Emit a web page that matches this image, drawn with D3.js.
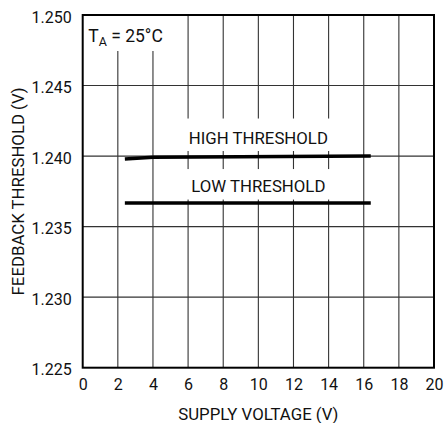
<!DOCTYPE html>
<html>
<head>
<meta charset="utf-8">
<script src="https://cdn.jsdelivr.net/npm/d3@7"></script>
<style>
  html, body { margin: 0; padding: 0; background: #fff; }
  svg { display: block; }
  text { font-family: Roboto, "Liberation Sans", sans-serif; fill: #111; }
</style>
</head>
<body>
<svg id="chart" width="444" height="423"></svg>
<script>
// ---- data ----
const xTicks = [0, 2, 4, 6, 8, 10, 12, 14, 16, 18, 20];
const yTicks = [1.225, 1.230, 1.235, 1.240, 1.245, 1.250];
const highVoltage = [2.4, 4, 16.4];
const highThreshold = [1.2398, 1.23992, 1.2400];
const lowVoltage = [2.4, 16.4];
const lowThreshold = [1.23667, 1.23667];
const seriesLabels = ["HIGH THRESHOLD", "LOW THRESHOLD"];
const labelPos = [[10, 1.24089], [10, 1.23745]];
const xTitle = "SUPPLY VOLTAGE (V)";
const yTitle = "FEEDBACK THRESHOLD (V)";

// ---- layout ----
const svg = d3.select("#chart");
const m = { left: 82.7, right: 434, top: 15, bottom: 367.7 };
const x = d3.scaleLinear().domain([0, 20]).range([m.left, m.right]);
const y = d3.scaleLinear().domain([1.225, 1.250]).range([m.bottom, m.top]);

// grid
const grid = svg.append("g").attr("stroke", "#333").attr("stroke-width", 1.1);
grid.selectAll("line.v").data(xTicks.slice(1, -1)).join("line")
  .attr("x1", d => x(d)).attr("x2", d => x(d))
  .attr("y1", m.top).attr("y2", m.bottom);
grid.selectAll("line.h").data(yTicks.slice(1, -1)).join("line")
  .attr("x1", m.left).attr("x2", m.right)
  .attr("y1", d => y(d)).attr("y2", d => y(d));

// axes (labels only)
const xAxis = svg.append("g").attr("transform", `translate(0,${m.bottom})`)
  .call(d3.axisBottom(x).tickValues(xTicks).tickSize(0).tickPadding(11).tickFormat(d3.format("d")));
const yAxis = svg.append("g").attr("transform", `translate(${m.left},0)`)
  .call(d3.axisLeft(y).tickValues(yTicks).tickSize(0).tickPadding(11).tickFormat(d3.format(".3f")));
[xAxis, yAxis].forEach(a => {
  a.select(".domain").remove();
  a.selectAll("text").attr("font-size", 16).attr("fill", "#111")
    .attr("font-family", "Roboto, 'Liberation Sans', sans-serif");
});
yAxis.selectAll("text").attr("dy", "0.45em");

// annotation with white background: T_A = 25°C
const ta = svg.append("text").attr("x", m.left + 5.6).attr("y", 41.5).attr("font-size", 17.5);
ta.append("tspan").text("T");
ta.append("tspan").attr("font-size", 12.5).attr("dy", 4).text("A");
ta.append("tspan").attr("dy", -4).text("\u00a0=\u00a025°C");
const tb = ta.node().getBBox();
svg.insert("rect", () => ta.node())
  .attr("x", m.left).attr("y", m.top)
  .attr("width", tb.x + tb.width + 5 - m.left).attr("height", 51 - m.top)
  .attr("fill", "#fff");

// series labels with white backgrounds
seriesLabels.forEach((s, i) => {
  const t = svg.append("text")
    .attr("x", x(labelPos[i][0])).attr("y", y(labelPos[i][1]))
    .attr("text-anchor", "middle").attr("font-size", 16.8).text(s);
  const b = t.node().getBBox();
  svg.insert("rect", () => t.node())
    .attr("x", b.x - 9).attr("width", b.width + 18)
    .attr("y", b.y - (i === 0 ? 9 : 7)).attr("height", b.height + (i === 0 ? 12.5 : 10.5))
    .attr("fill", "#fff");
});

// series lines
const line = d3.line().x(d => x(d[0])).y(d => y(d[1]));
svg.append("path").datum(d3.zip(highVoltage, highThreshold))
  .attr("d", line).attr("fill", "none").attr("stroke", "#000").attr("stroke-width", 3.5);
svg.append("path").datum(d3.zip(lowVoltage, lowThreshold))
  .attr("d", line).attr("fill", "none").attr("stroke", "#000").attr("stroke-width", 3.5);

// frame
svg.append("rect").attr("x", m.left).attr("y", m.top)
  .attr("width", m.right - m.left).attr("height", m.bottom - m.top)
  .attr("fill", "none").attr("stroke", "#000").attr("stroke-width", 2);

// axis titles
svg.append("text").attr("x", x(10)).attr("y", 419.5)
  .attr("text-anchor", "middle").attr("font-size", 16.8).text(xTitle);
svg.append("text").attr("transform", `translate(24.3,${(m.top + m.bottom) / 2}) rotate(-90)`)
  .attr("text-anchor", "middle").attr("font-size", 16.8).text(yTitle);
</script>
</body>
</html>
